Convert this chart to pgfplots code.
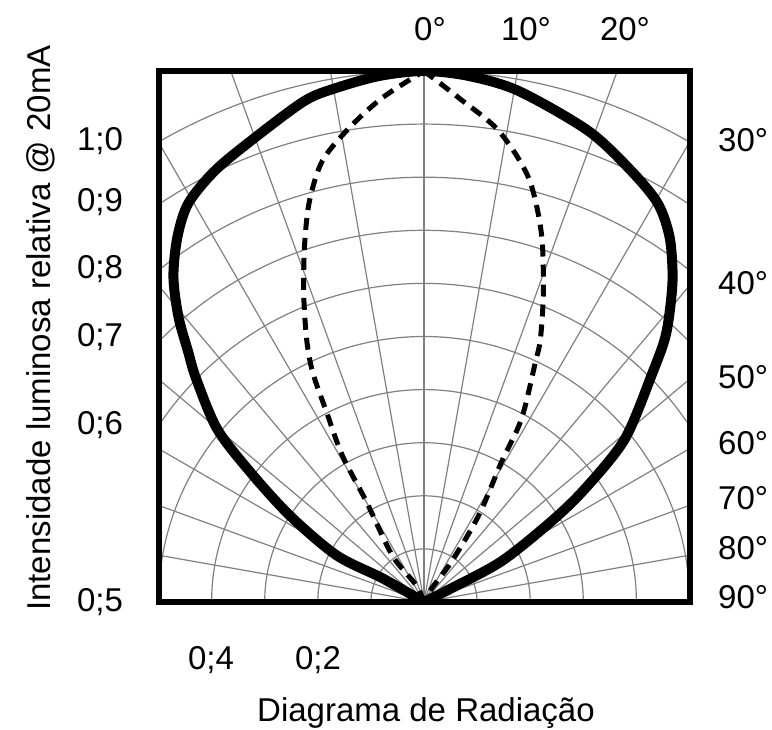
\documentclass[border=0pt]{standalone}
\usepackage{pgfplots}
\pgfplotsset{compat=1.18}
\usepackage{fontspec}
\setmainfont{Liberation Sans}
\tikzset{gridc/.style={black!50, line width=1.2pt}}

\pgfplotstableread{
x y
0 0
-0.0787 0.0449
-0.1648 0.0880
-0.2528 0.1629
-0.3277 0.2453
-0.3895 0.3258
-0.4288 0.4195
-0.4438 0.4700
-0.4625 0.5375
-0.4719 0.6124
-0.4644 0.6873
-0.4438 0.7509
-0.3933 0.8127
-0.3184 0.8745
-0.2247 0.9438
-0.1648 0.9682
-0.0843 0.9906
0 1.0
0.0843 0.9906
0.1779 0.9625
0.3090 0.8876
0.3895 0.8127
0.4401 0.7509
0.4625 0.6873
0.4682 0.6124
0.4625 0.5449
0.4532 0.4944
0.4307 0.4326
0.3783 0.3071
0.3034 0.2135
0.2397 0.1517
0.1461 0.0768
0.0524 0.0262
0 0
}\solid

\pgfplotstableread{
x y
0 0
-0.0150 0.0318
-0.0599 0.0880
-0.1086 0.1891
-0.1536 0.2753
-0.1835 0.3577
-0.2097 0.4326
-0.2210 0.4944
-0.2266 0.5824
-0.2247 0.6760
-0.2154 0.7566
-0.1910 0.8315
-0.1404 0.8933
-0.0787 0.9494
0 1.0
}\dashleft

\pgfplotstableread{
x y
0 1.0
0.0655 0.9494
0.1404 0.8876
0.1966 0.7996
0.2210 0.6948
0.2247 0.5824
0.2191 0.4944
0.2097 0.4513
0.1835 0.3446
0.1461 0.2640
0.1030 0.1629
0.0524 0.0768
0.0150 0.0262
0 0
}\dashright

\begin{document}
\begin{tikzpicture}
\fontsize{33}{40}\selectfont
\path[use as bounding box] (0pt,0pt) rectangle (772pt,730pt);
\begin{axis}[
    at={(158.5pt,128pt)}, anchor=south west,
    scale only axis, width=531pt, height=531pt,
    xmin=-0.5, xmax=0.5, ymin=0, ymax=1,
    xtick=\empty, ytick=\empty,
    axis line style={line width=6pt},
    axis on top,
]
    % polar grid
    \pgfplotsinvokeforeach{0.1,0.2,0.3,0.4,0.5,0.6,0.7,0.8,0.9,1.0}{
        \draw[gridc] (axis cs:0,0) circle[radius=#1];
    }
    \pgfplotsinvokeforeach{-80,-70,-60,-50,-40,-30,-20,-10,0,10,20,30,40,50,60,70,80}{
        \draw[gridc] (axis cs:0,0) -- (axis cs:{2*sin(#1)},{2*cos(#1)});
    }
    \addplot[black, line width=10pt, smooth, line cap=round, line join=round] table {\solid};
    \addplot[black, line width=5pt, smooth, dash pattern=on 12pt off 8pt] table {\dashleft};
    \addplot[black, line width=5pt, smooth, dash pattern=on 12pt off 8pt] table {\dashright};
\end{axis}

\begin{scope}[every node/.style={inner sep=0pt}]
    % angle labels
    \node[anchor=base] at (430pt,689pt) {0°};
    \node[anchor=base] at (526pt,689pt) {10°};
    \node[anchor=base] at (625pt,689pt) {20°};
    \node[anchor=west] at (718pt,590pt) {30°};
    \node[anchor=west] at (718pt,447pt) {40°};
    \node[anchor=west] at (718pt,353pt) {50°};
    \node[anchor=west] at (718pt,287pt) {60°};
    \node[anchor=west] at (718pt,232pt) {70°};
    \node[anchor=west] at (718pt,182pt) {80°};
    \node[anchor=west] at (718pt,133pt) {90°};
    % intensity labels
    \node[anchor=base] at (100pt,579pt) {1;0};
    \node[anchor=base] at (100pt,518pt) {0;9};
    \node[anchor=base] at (100pt,451pt) {0;8};
    \node[anchor=base] at (100pt,383pt) {0;7};
    \node[anchor=base] at (100pt,295pt) {0;6};
    \node[anchor=base] at (100pt,118pt) {0;5};
    \node[anchor=base] at (211pt,60pt) {0;4};
    \node[anchor=base] at (318pt,60pt) {0;2};
    % titles
    \node[anchor=base] at (426pt,8pt) {Diagrama de Radiação};
    \node[anchor=base, rotate=90] at (50pt,402pt) {Intensidade luminosa relativa @ 20mA};
\end{scope}
\end{tikzpicture}
\end{document}
